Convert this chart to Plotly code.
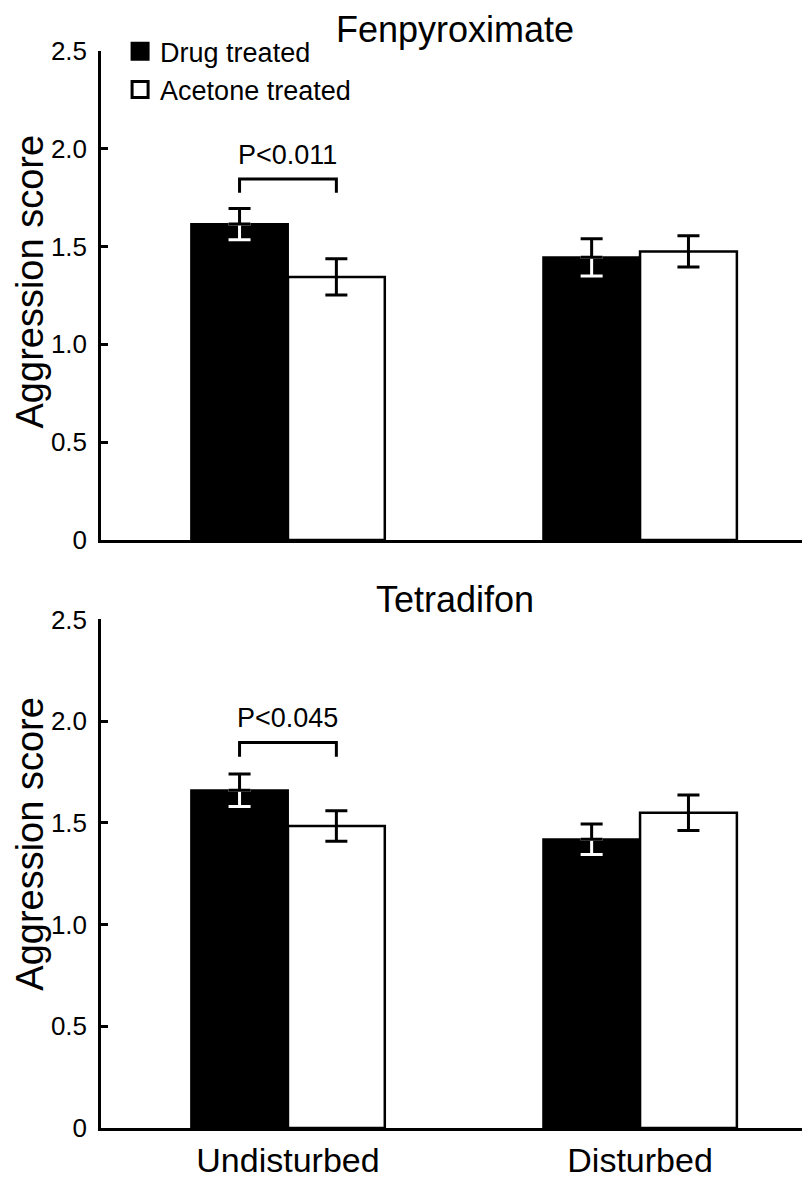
import plotly.graph_objects as go
from plotly.subplots import make_subplots

groups = ["Undisturbed", "Disturbed"]
series_names = ["Drug treated", "Acetone treated"]
panel_titles = ["Fenpyroximate", "Tetradifon"]
y_title = "Aggression score"

# Fenpyroximate panel
fen_drug = [1.615, 1.445]
fen_drug_err = [0.08, 0.095]
fen_acetone = [1.345, 1.475]
fen_acetone_err = [0.093, 0.08]

# Tetradifon panel
tet_drug = [1.66, 1.42]
tet_drug_err = [0.08, 0.075]
tet_acetone = [1.485, 1.55]
tet_acetone_err = [0.075, 0.087]

p_labels = ["P<0.011", "P<0.045"]
bracket_y = [1.845, 1.895]

y_ticks = [0, 0.5, 1.0, 1.5, 2.0, 2.5]
y_ticktext = ["0", "0.5", "1.0", "1.5", "2.0", "2.5"]

FONT = "Liberation Sans, Arial, sans-serif"
bargap = 0.45
half_bar = (1 - bargap) / 4  # offset of each bar centre from the group centre

panels = [
    (fen_drug, fen_drug_err, fen_acetone, fen_acetone_err),
    (tet_drug, tet_drug_err, tet_acetone, tet_acetone_err),
]

fig = make_subplots(rows=2, cols=1)
x_idx = list(range(len(groups)))
clear = "rgba(0,0,0,0)"

for r, (drug, drug_err, ace, ace_err) in enumerate(panels, start=1):
    # drug bars, black
    fig.add_trace(go.Bar(x=x_idx, y=drug, offsetgroup="drug", marker=dict(color="black", line=dict(color="black", width=2)),
                         showlegend=False), row=r, col=1)
    # lower half of the error bar is white inside the black bar
    fig.add_trace(go.Bar(x=x_idx, y=drug, offsetgroup="drug", marker=dict(color=clear, line=dict(width=0)),
                         error_y=dict(type="data", symmetric=False, array=[0] * len(drug), arrayminus=drug_err,
                                      color="white", thickness=3, width=11),
                         showlegend=False), row=r, col=1)
    fig.add_trace(go.Bar(x=x_idx, y=drug, offsetgroup="drug", marker=dict(color=clear, line=dict(width=0)),
                         error_y=dict(type="data", symmetric=False, array=drug_err, arrayminus=[0] * len(drug),
                                      color="black", thickness=3, width=11),
                         showlegend=False), row=r, col=1)
    # acetone bars, white with black outline
    fig.add_trace(go.Bar(x=x_idx, y=ace, offsetgroup="acetone", marker=dict(color="white", line=dict(color="black", width=2.5)),
                         error_y=dict(type="data", array=ace_err, color="black", thickness=3, width=11),
                         showlegend=False), row=r, col=1)
    # significance bracket between the two undisturbed bars
    by = bracket_y[r - 1]
    fig.add_trace(go.Scatter(x=[x_idx[0] - half_bar, x_idx[0] - half_bar, x_idx[0] + half_bar, x_idx[0] + half_bar],
                             y=[by - 0.07, by, by, by - 0.07], mode="lines",
                             line=dict(color="black", width=3), showlegend=False, hoverinfo="skip"), row=r, col=1)
    fig.add_annotation(x=x_idx[0], y=by + 0.035, text=p_labels[r - 1], showarrow=False, yanchor="bottom",
                       font=dict(size=27, color="black", family=FONT), row=r, col=1)

# legend entries
fig.add_trace(go.Scatter(x=[None], y=[None], mode="markers", name=series_names[0],
                         marker=dict(symbol="square", size=16, color="black", line=dict(color="black", width=3))), row=1, col=1)
fig.add_trace(go.Scatter(x=[None], y=[None], mode="markers", name=series_names[1],
                         marker=dict(symbol="square", size=16, color="white", line=dict(color="black", width=3))), row=1, col=1)

axis_common = dict(showline=True, linecolor="black", linewidth=2.5, showgrid=False, zeroline=False)
for r in (1, 2):
    fig.update_xaxes(range=[-0.531, 1.477], ticks="", **axis_common, row=r, col=1)
    fig.update_yaxes(range=[0, 2.5], tickvals=y_ticks, ticktext=y_ticktext, ticks="inside", ticklen=7, tickwidth=2.5,
                     tickcolor="black", ticklabelstandoff=6, tickfont=dict(size=26, color="black", family=FONT),
                     **axis_common, row=r, col=1)
fig.update_xaxes(showticklabels=False, row=1, col=1)
fig.update_xaxes(tickvals=x_idx, ticktext=groups, tickfont=dict(size=34, color="black", family=FONT), row=2, col=1)

fig.update_layout(
    yaxis=dict(domain=[0.546, 1.0]),
    yaxis2=dict(domain=[0.0, 0.4722]),
    xaxis=dict(anchor="y"),
    xaxis2=dict(anchor="y2"),
)

# y titles sit a little above the middle of each axis
for ydom, shift in (("y domain", 14), ("y2 domain", 30)):
    fig.add_annotation(x=0, y=0.5, xref="paper", yref=ydom, xshift=-71, yshift=shift, text=y_title, textangle=-90,
                       showarrow=False, xanchor="center", yanchor="middle",
                       font=dict(size=38, color="black", family=FONT))

# panel titles
fig.add_annotation(x=0.5, y=1.0, xref="x domain", yref="y domain", yshift=22, text=panel_titles[0], showarrow=False,
                   yanchor="middle", font=dict(size=36, color="black", family=FONT))
fig.add_annotation(x=0.5, y=1.0, xref="x2 domain", yref="y2 domain", yshift=20, text=panel_titles[1], showarrow=False,
                   yanchor="middle", font=dict(size=36, color="black", family=FONT))

fig.update_layout(
    width=810, height=1181,
    margin=dict(l=93, r=10, t=43, b=39),
    barmode="group", bargap=bargap, bargroupgap=0,
    plot_bgcolor="white", paper_bgcolor="white",
    font=dict(family=FONT, color="black"),
    legend=dict(x=0.027, y=1.022, xanchor="left", yanchor="top", bgcolor=clear,
                font=dict(size=27, color="black", family=FONT), tracegroupgap=0, itemwidth=30),
)

fig.write_html("out.html")
